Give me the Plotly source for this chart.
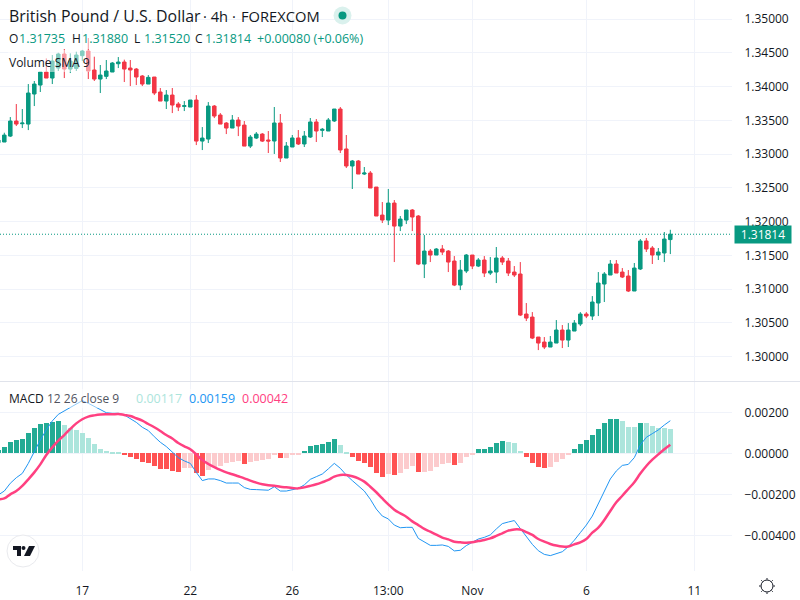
import plotly.graph_objects as go
from plotly.subplots import make_subplots

# candles (index -1 is the one cut by the left edge)
bar_index = list(range(-1, 112))
opens = [1.33170,
    1.33180, 1.33268, 1.33491, 1.33451, 1.33446, 1.33891, 1.34024, 1.34217, 1.34128, 1.34276,
    1.34484, 1.34261, 1.34271, 1.34459, 1.34528, 1.34247, 1.34113, 1.34153, 1.34217, 1.34340,
    1.34365, 1.34276, 1.34261, 1.34158, 1.34039, 1.34143, 1.33921, 1.33787, 1.33876, 1.33743,
    1.33708, 1.33698, 1.33802, 1.33194, 1.33224, 1.33713, 1.33580, 1.33461, 1.33387, 1.33506,
    1.33431, 1.33120, 1.33239, 1.33298, 1.33210, 1.33195, 1.33462, 1.32943, 1.33106, 1.33240,
    1.33151, 1.33254, 1.33477, 1.33353, 1.33343, 1.33492, 1.33669, 1.33077, 1.32825, 1.32899,
    1.32706, 1.32721, 1.32513, 1.32098, 1.32024, 1.32276, 1.31935, 1.32024, 1.32173, 1.32084,
    1.31372, 1.31565, 1.31506, 1.31595, 1.31565, 1.31417, 1.31061, 1.31269, 1.31506, 1.31343,
    1.31432, 1.31239, 1.31254, 1.31462, 1.31417, 1.31254, 1.31225, 1.30632, 1.30587, 1.30291,
    1.30217, 1.30143, 1.30202, 1.30395, 1.30246, 1.30380, 1.30484, 1.30632, 1.30602, 1.30795,
    1.31076, 1.31210, 1.31373, 1.31254, 1.31195, 1.30973, 1.31299, 1.31714, 1.31610, 1.31506,
    1.31536, 1.31735]
highs = [1.33209,
    1.33318, 1.33550, 1.33743, 1.33669, 1.34039, 1.34084, 1.34217, 1.34419, 1.34469, 1.34503,
    1.34558, 1.34494, 1.34518, 1.34543, 1.34721, 1.34444, 1.34321, 1.34395, 1.34365, 1.34439,
    1.34400, 1.34395, 1.34276, 1.34172, 1.34172, 1.34143, 1.33980, 1.33950, 1.33980, 1.33772,
    1.33787, 1.33802, 1.33876, 1.33402, 1.33772, 1.33728, 1.33609, 1.33476, 1.33580, 1.33550,
    1.33491, 1.33284, 1.33328, 1.33313, 1.33343, 1.33699, 1.33595, 1.33180, 1.33284, 1.33358,
    1.33343, 1.33536, 1.33521, 1.33388, 1.33536, 1.33669, 1.33699, 1.33284, 1.32914, 1.32914,
    1.32810, 1.32751, 1.32513, 1.32291, 1.32484, 1.32321, 1.32084, 1.32173, 1.32187, 1.32098,
    1.31802, 1.31595, 1.31609, 1.31654, 1.31580, 1.31491, 1.31432, 1.31521, 1.31506, 1.31461,
    1.31491, 1.31476, 1.31625, 1.31491, 1.31462, 1.31343, 1.31402, 1.30795, 1.30661, 1.30291,
    1.30291, 1.30306, 1.30543, 1.30469, 1.30498, 1.30543, 1.30661, 1.30661, 1.30898, 1.31254,
    1.31254, 1.31432, 1.31432, 1.31313, 1.31284, 1.31388, 1.31743, 1.31758, 1.31639, 1.31610,
    1.31847, 1.31880]
lows = [1.33160,
    1.33180, 1.33254, 1.33417, 1.33387, 1.33357, 1.33713, 1.33921, 1.34128, 1.34039, 1.34232,
    1.34128, 1.34202, 1.34232, 1.34380, 1.34113, 1.34084, 1.33906, 1.34113, 1.34217, 1.34276,
    1.34069, 1.34009, 1.34024, 1.34009, 1.34039, 1.33876, 1.33787, 1.33669, 1.33609, 1.33639,
    1.33639, 1.33698, 1.33135, 1.33061, 1.33165, 1.33535, 1.33446, 1.33298, 1.33387, 1.33268,
    1.33120, 1.33091, 1.33224, 1.33180, 1.33017, 1.33003, 1.32884, 1.32943, 1.33106, 1.33136,
    1.33106, 1.33240, 1.33180, 1.33254, 1.33343, 1.33477, 1.33017, 1.32795, 1.32484, 1.32706,
    1.32691, 1.32499, 1.32084, 1.31980, 1.31950, 1.31402, 1.31861, 1.31965, 1.31861, 1.31357,
    1.31165, 1.31402, 1.31506, 1.31506, 1.31254, 1.31046, 1.30987, 1.31239, 1.31298, 1.31328,
    1.31180, 1.31210, 1.31091, 1.31358, 1.31195, 1.31180, 1.30602, 1.30528, 1.30261, 1.30098,
    1.30113, 1.30143, 1.30202, 1.30128, 1.30143, 1.30380, 1.30454, 1.30572, 1.30543, 1.30602,
    1.30810, 1.31210, 1.31239, 1.31165, 1.30958, 1.30973, 1.31284, 1.31551, 1.31373, 1.31432,
    1.31402, 1.31520]
closes = [1.33209,
    1.33283, 1.33491, 1.33446, 1.33461, 1.33906, 1.34039, 1.34217, 1.34128, 1.34380, 1.34484,
    1.34261, 1.34380, 1.34469, 1.34528, 1.34232, 1.34113, 1.34172, 1.34232, 1.34350, 1.34365,
    1.34261, 1.34247, 1.34143, 1.34039, 1.34138, 1.33906, 1.33787, 1.33876, 1.33728, 1.33698,
    1.33718, 1.33802, 1.33194, 1.33239, 1.33713, 1.33565, 1.33446, 1.33387, 1.33506, 1.33417,
    1.33120, 1.33254, 1.33298, 1.33194, 1.33195, 1.33462, 1.32943, 1.33121, 1.33240, 1.33151,
    1.33269, 1.33477, 1.33343, 1.33368, 1.33506, 1.33669, 1.33062, 1.32825, 1.32899, 1.32706,
    1.32721, 1.32499, 1.32084, 1.32024, 1.32276, 1.31935, 1.32039, 1.32173, 1.32069, 1.31372,
    1.31565, 1.31506, 1.31595, 1.31550, 1.31402, 1.31061, 1.31283, 1.31506, 1.31343, 1.31432,
    1.31239, 1.31269, 1.31462, 1.31402, 1.31239, 1.31210, 1.30617, 1.30572, 1.30276, 1.30202,
    1.30143, 1.30217, 1.30395, 1.30246, 1.30395, 1.30498, 1.30632, 1.30602, 1.30810, 1.31091,
    1.31225, 1.31373, 1.31239, 1.31180, 1.30973, 1.31313, 1.31714, 1.31595, 1.31506, 1.31551,
    1.31743, 1.31814]

# MACD pane
hist = [0.00016,
    0.00031, 0.00057, 0.00065, 0.00070, 0.00101, 0.00124, 0.00143, 0.00150, 0.00153, 0.00159,
    0.00138, 0.00125, 0.00114, 0.00101, 0.00076, 0.00046, 0.00021, 0.00013, 0.00008, 0.00007,
    -0.00008, -0.00020, -0.00028, -0.00042, -0.00046, -0.00062, -0.00076, -0.00078, -0.00085, -0.00089,
    -0.00073, -0.00072, -0.00098, -0.00111, -0.00081, -0.00065, -0.00062, -0.00049, -0.00044, -0.00036,
    -0.00050, -0.00044, -0.00036, -0.00031, -0.00029, -0.00008, -0.00023, -0.00023, -0.00008, -0.00005,
    0.00013, 0.00036, 0.00041, 0.00044, 0.00054, 0.00070, 0.00039, 0.00003, -0.00018, -0.00037,
    -0.00047, -0.00068, -0.00096, -0.00115, -0.00099, -0.00106, -0.00096, -0.00076, -0.00062, -0.00091,
    -0.00091, -0.00086, -0.00068, -0.00052, -0.00047, -0.00057, -0.00047, -0.00018, -0.00005, 0.00020,
    0.00023, 0.00029, 0.00049, 0.00059, 0.00054, 0.00049, 0.00013, -0.00016, -0.00046, -0.00065,
    -0.00070, -0.00067, -0.00041, -0.00029, -0.00008, 0.00023, 0.00047, 0.00067, 0.00089, 0.00119,
    0.00148, 0.00167, 0.00169, 0.00159, 0.00130, 0.00130, 0.00148, 0.00148, 0.00135, 0.00125,
    0.00122, 0.00117]
macd = [-0.00203,
    -0.00184, -0.00146, -0.00119, -0.00098, -0.00049, 0.00008, 0.00065, 0.00114, 0.00158, 0.00190,
    0.00207, 0.00223, 0.00241, 0.00257, 0.00244, 0.00228, 0.00210, 0.00198, 0.00195, 0.00195,
    0.00187, 0.00171, 0.00151, 0.00127, 0.00111, 0.00081, 0.00054, 0.00033, 0.00008, -0.00021,
    -0.00037, -0.00049, -0.00093, -0.00133, -0.00125, -0.00125, -0.00133, -0.00145, -0.00145, -0.00145,
    -0.00167, -0.00176, -0.00177, -0.00180, -0.00180, -0.00163, -0.00184, -0.00184, -0.00176, -0.00171,
    -0.00154, -0.00127, -0.00114, -0.00101, -0.00076, -0.00049, -0.00073, -0.00106, -0.00133, -0.00158,
    -0.00184, -0.00224, -0.00272, -0.00306, -0.00320, -0.00350, -0.00363, -0.00361, -0.00361, -0.00415,
    -0.00434, -0.00449, -0.00449, -0.00447, -0.00454, -0.00476, -0.00473, -0.00450, -0.00434, -0.00418,
    -0.00410, -0.00398, -0.00369, -0.00343, -0.00335, -0.00328, -0.00367, -0.00407, -0.00444, -0.00475,
    -0.00493, -0.00499, -0.00488, -0.00480, -0.00455, -0.00424, -0.00387, -0.00350, -0.00306, -0.00247,
    -0.00187, -0.00125, -0.00086, -0.00059, -0.00054, -0.00021, 0.00041, 0.00078, 0.00096, 0.00114,
    0.00138, 0.00159]
signal = [-0.00224,
    -0.00220, -0.00200, -0.00184, -0.00159, -0.00127, -0.00093, -0.00054, -0.00008, 0.00029, 0.00062,
    0.00089, 0.00119, 0.00146, 0.00166, 0.00179, 0.00185, 0.00189, 0.00190, 0.00190, 0.00192,
    0.00187, 0.00182, 0.00171, 0.00159, 0.00143, 0.00127, 0.00109, 0.00089, 0.00072, 0.00050,
    0.00034, 0.00020, -0.00005, -0.00033, -0.00052, -0.00067, -0.00081, -0.00093, -0.00102, -0.00112,
    -0.00122, -0.00133, -0.00143, -0.00151, -0.00156, -0.00158, -0.00163, -0.00166, -0.00169, -0.00171,
    -0.00166, -0.00159, -0.00151, -0.00141, -0.00130, -0.00114, -0.00106, -0.00106, -0.00112, -0.00122,
    -0.00138, -0.00163, -0.00190, -0.00220, -0.00249, -0.00275, -0.00293, -0.00309, -0.00332, -0.00350,
    -0.00369, -0.00382, -0.00397, -0.00411, -0.00420, -0.00431, -0.00434, -0.00436, -0.00434, -0.00428,
    -0.00423, -0.00415, -0.00403, -0.00390, -0.00377, -0.00371, -0.00372, -0.00384, -0.00398, -0.00418,
    -0.00431, -0.00442, -0.00450, -0.00455, -0.00454, -0.00444, -0.00434, -0.00418, -0.00387, -0.00363,
    -0.00325, -0.00281, -0.00239, -0.00207, -0.00174, -0.00141, -0.00099, -0.00062, -0.00031, -0.00005,
    0.00020, 0.00042]

# axes
time_ticks = [13, 31, 48, 64, 78, 97, 115]
time_labels = ['17', '22', '26', '13:00', 'Nov', '6', '11']
price_ticks = [1.30, 1.305, 1.31, 1.315, 1.32, 1.325, 1.33, 1.335, 1.34, 1.345, 1.35]
macd_ticks = [-0.004, -0.002, 0, 0.002]

UP = '#089981'
DOWN = '#F23645'
GRID = '#F0F3FA'
TEXT = '#131722'
FONT = 'Open Sans'

# plot area is 732 x 571 px, these turn page pixels into paper fractions
def px(x):
    return x / 732

def py(y):
    return 1 - y / 571

# histogram colour: strong while the bar grows away from zero, pale otherwise
hist_colors = []
for i, h in enumerate(hist):
    prev = hist[i - 1] if i > 0 else 0
    if h >= 0:
        hist_colors.append('#22AB94' if h > prev else '#ACE5DC')
    else:
        hist_colors.append('#FF5252' if h < prev else '#FCCBCD')

fig = make_subplots(rows=2, cols=1, shared_xaxes=True)

fig.add_trace(go.Candlestick(
    x=bar_index, open=opens, high=highs, low=lows, close=closes,
    whiskerwidth=0,
    increasing=dict(line=dict(color=UP, width=1), fillcolor=UP),
    decreasing=dict(line=dict(color=DOWN, width=1), fillcolor=DOWN),
    showlegend=False), row=1, col=1)

fig.add_trace(go.Bar(x=bar_index, y=hist, marker=dict(color=hist_colors, line_width=0),
                     width=0.8, showlegend=False), row=2, col=1)
fig.add_trace(go.Scatter(x=bar_index, y=macd, mode='lines', line=dict(color='#2196F3', width=1),
                         showlegend=False), row=2, col=1)
fig.add_trace(go.Scatter(x=bar_index, y=signal, mode='lines',
                         line=dict(color='#FF4081', width=2.5, shape='spline'),
                         showlegend=False), row=2, col=1)

fig.update_xaxes(range=[-0.717, 121.28], tickvals=time_ticks, ticktext=time_labels,
                 showgrid=True, gridcolor=GRID, gridwidth=1, zeroline=False, showline=False,
                 ticks='outside', ticklen=9, tickcolor='rgba(0,0,0,0)',
                 tickfont=dict(family=FONT, size=12, color=TEXT), rangeslider_visible=False)
fig.update_yaxes(side='right', showgrid=True, gridcolor=GRID, gridwidth=1, zeroline=False,
                 showline=False, ticks='outside', ticklen=9, tickcolor='rgba(0,0,0,0)',
                 tickformat='.5f', tickfont=dict(family=FONT, size=12, color=TEXT))
fig.update_xaxes(domain=[0, 1])
fig.update_yaxes(domain=[190 / 571, 1], range=[1.2964, 1.35284], tickvals=price_ticks, row=1, col=1)
fig.update_yaxes(domain=[0, 189 / 571], range=[-0.00574, 0.003478], tickvals=macd_ticks, row=2, col=1)

# legend rows sit on half transparent boxes, the candles show through them
for x0, x1, y0, y1 in [(8, 367, 30, 49), (8, 92, 50, 72), (8, 292, 389, 408)]:
    fig.add_shape(type='rect', xref='paper', yref='paper', x0=px(x0), x1=px(x1), y0=py(y1), y1=py(y0),
                  fillcolor='rgba(255,255,255,0.5)', line_width=0, layer='above')

def label(text, x, y, size=12, color=TEXT):
    fig.add_annotation(xref='paper', yref='paper', x=px(x), y=py(y), xanchor='left', yanchor='middle',
                       text=text, showarrow=False, borderpad=0,
                       font=dict(family=FONT, size=size, color=color))

label('British Pound / U.S. Dollar', 8, 16, 15.9)
label('· 4h ·', 202, 16, 14.7)
label('FOREXCOM', 240, 16, 14.7)

for letter, value, x_letter, x_value in [('O', '1.31735', 8, 18), ('H', '1.31880', 71, 80.5),
                                         ('L', '1.31520', 133, 142.5), ('C', '1.31814', 194, 204)]:
    label(letter, x_letter, 39)
    label(value, x_value, 39, 12.5, UP)
label('+0.00080 (+0.06%)', 256, 39, 12.5, UP)

label('Volume SMA 9', 8, 62)

label('MACD', 8, 398)
label('12 26 close 9', 46, 398, 12, '#50535E')
label('0.00117', 135, 398, 12.5, '#ACE5DC')
label('0.00159', 188, 398, 12.5, '#2196F3')
label('0.00042', 241, 398, 12.5, '#FF4081')

# last price line and its label
fig.add_shape(type='line', xref='paper', x0=0, x1=1, yref='y', y0=closes[-1], y1=closes[-1],
              line=dict(color=UP, width=1, dash='1px,2px'))
fig.add_annotation(xref='paper', yref='y', x=px(734), y=closes[-1], xanchor='left', yanchor='middle',
                   text='%.5f' % closes[-1], showarrow=False, width=56, height=17, align='center',
                   bgcolor=UP, borderpad=0, font=dict(family=FONT, size=12, color='white'))

# pane separator
fig.add_shape(type='line', xref='paper', x0=0, x1=px(800), yref='paper', y0=py(381.5), y1=py(381.5),
              line=dict(color='#E0E3EB', width=1))

def circle(cx, cy, r, **kw):
    fig.add_shape(type='circle', xref='paper', yref='paper', x0=px(cx - r), x1=px(cx + r),
                  y0=py(cy + r), y1=py(cy - r), **kw)

# market status dot
circle(342.5, 15.5, 9, fillcolor='#DAF1ED', line_width=0)
circle(342.5, 15.5, 4, fillcolor=UP, line_width=0)

# logo badge
circle(23, 551, 16, fillcolor='white', line=dict(color='#E9EAEE', width=1))
def polygon(points, color):
    path = 'M ' + ' L '.join('%.5f %.5f' % (px(a), py(b)) for a, b in points) + ' Z'
    fig.add_shape(type='path', xref='paper', yref='paper', path=path, fillcolor=color, line_width=0)

polygon([(13, 546), (21, 546), (21, 556), (17, 556), (17, 550), (13, 550)], TEXT)
circle(23.5, 548, 2, fillcolor=TEXT, line_width=0)
polygon([(29, 546), (35, 546), (30, 556), (24, 556)], TEXT)

# theme button
circle(767, 586, 6, fillcolor='white', line=dict(color=TEXT, width=1))
for dx, dy in [(0, -8), (0, 8), (-8, 0), (8, 0), (-5.7, -5.7), (5.7, -5.7), (-5.7, 5.7), (5.7, 5.7)]:
    fig.add_shape(type='line', xref='paper', yref='paper', x0=px(767 + dx * 0.8), x1=px(767 + dx),
                  y0=py(586 + dy * 0.8), y1=py(586 + dy), line=dict(color=TEXT, width=1))

fig.update_layout(width=800, height=600, margin=dict(l=0, r=68, t=0, b=29),
                  paper_bgcolor='white', plot_bgcolor='white', boxmode='overlay', boxgap=0.17,
                  bargap=0, hovermode=False, showlegend=False, font=dict(family=FONT))

fig.write_html('out.html', config={'displayModeBar': False},
               post_script="document.body.style.margin='0';")
